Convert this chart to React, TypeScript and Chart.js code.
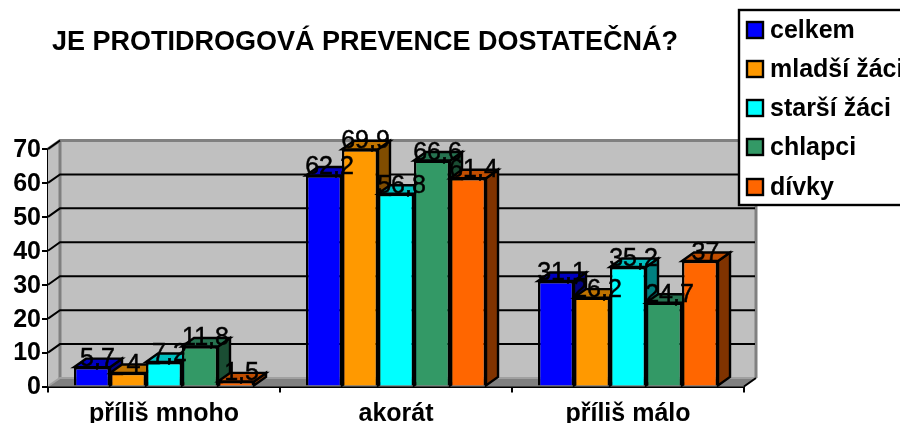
import React, { useEffect, useRef } from "react";
import { Chart, registerables } from "chart.js";

Chart.register(...registerables);

const categories = ["příliš mnoho", "akorát", "příliš málo"];
const celkem = [5.7, 62.2, 31.1];
const mladsiZaci = [4, 69.9, 26.2];
const starsiZaci = [7.2, 56.8, 35.2];
const chlapci = [11.8, 66.6, 24.7];
const divky = [1.5, 61.4, 37];
const seriesNames = ["celkem", "mladší žáci", "starší žáci", "chlapci", "dívky"];
const frontColors = ["#0000FF", "#FF9900", "#00FFFF", "#339966", "#FF6600"];
const topColors = ["#0000C0", "#C07400", "#00C0C0", "#267350", "#C04D00"];
const sideColors = ["#000080", "#804D00", "#008080", "#1A4D33", "#803300"];
const titleText = "JE PROTIDROGOVÁ PREVENCE DOSTATEČNÁ?";

const DX = 12;
const DY = -8.5;
const FONT = '"Liberation Sans", Arial, sans-serif';

const poly = (ctx: CanvasRenderingContext2D, pts: number[][], fill: string, stroke?: string, lw = 2) => {
  ctx.beginPath();
  pts.forEach(([x, y], i) => (i ? ctx.lineTo(x, y) : ctx.moveTo(x, y)));
  ctx.closePath();
  ctx.fillStyle = fill;
  ctx.fill();
  if (stroke) {
    ctx.strokeStyle = stroke;
    ctx.lineWidth = lw;
    ctx.lineJoin = "miter";
    ctx.stroke();
  }
};

const scene3d = {
  id: "scene3d",
  afterLayout(chart: any) {
    if (chart.titleBlock) chart.titleBlock.left = 52;
  },
  beforeDatasetsDraw(chart: any) {
    const { ctx, chartArea: a, scales } = chart;
    const { left: l, right: r, top: t, bottom: b } = a;
    ctx.save();
    // left side wall, back wall, floor
    poly(ctx, [[l, t], [l + DX, t + DY], [l + DX, b + DY], [l, b]], "#C0C0C0");
    poly(ctx, [[l + DX, t + DY], [r + DX, t + DY], [r + DX, b + DY], [l + DX, b + DY]], "#C0C0C0");
    ctx.strokeStyle = "#808080";
    ctx.lineWidth = 3;
    ctx.beginPath();
    ctx.moveTo(l, t);
    ctx.lineTo(l + DX, t + DY);
    ctx.lineTo(r + DX, t + DY);
    ctx.lineTo(r + DX, b + DY);
    ctx.moveTo(l + DX, t + DY);
    ctx.lineTo(l + DX, b + DY);
    ctx.stroke();
    // wall grid lines, one per y tick
    ctx.strokeStyle = "#000";
    ctx.lineWidth = 2;
    scales.y.ticks.forEach((tk: any) => {
      const y = scales.y.getPixelForValue(tk.value);
      if (tk.value === scales.y.min) return;
      ctx.beginPath();
      ctx.moveTo(l, y);
      ctx.lineTo(l + DX, y + DY);
      if (tk.value !== scales.y.max) ctx.lineTo(r + DX - 1, y + DY);
      ctx.stroke();
    });
    // floor
    poly(ctx, [[l, b], [l + DX, b + DY], [r + DX, b + DY], [r, b]], "#808080");
    ctx.strokeStyle = "#A0A0A0";
    ctx.lineWidth = 2;
    ctx.beginPath();
    ctx.moveTo(l + 1, b - 1);
    ctx.lineTo(l + DX, b + DY);
    ctx.lineTo(r + DX, b + DY);
    ctx.stroke();
    ctx.strokeStyle = "#000";
    ctx.lineWidth = 2;
    ctx.beginPath();
    ctx.moveTo(r, b);
    ctx.lineTo(r + DX, b + DY);
    ctx.stroke();
    // bars: first series painted first, later ones overlap its depth
    chart.data.datasets.forEach((_: any, i: number) => {
      const meta = chart.getDatasetMeta(i);
      meta.data.forEach((bar: any) => {
        const x0 = bar.x - bar.width / 2;
        const x1 = bar.x + bar.width / 2;
        const y0 = bar.y;
        const y1 = bar.base;
        poly(ctx, [[x1, y0], [x1 + DX, y0 + DY], [x1 + DX, y1 + DY], [x1, y1]], sideColors[i], "#000", 2.4);
        poly(ctx, [[x0, y0], [x0 + DX, y0 + DY], [x1 + DX, y0 + DY], [x1, y0]], topColors[i], "#000", 2.4);
        bar.draw(ctx);
      });
    });
    ctx.restore();
    return false;
  },
  afterDraw(chart: any) {
    const { ctx } = chart;
    ctx.save();
    // value labels
    ctx.font = `25px ${FONT}`;
    ctx.fillStyle = "#000";
    ctx.strokeStyle = "#000";
    ctx.lineWidth = 0.5;
    ctx.textAlign = "center";
    ctx.textBaseline = "alphabetic";
    chart.data.datasets.forEach((ds: any, i: number) => {
      chart.getDatasetMeta(i).data.forEach((bar: any, j: number) => {
        const text = String(ds.data[j]).replace(".", ",");
        ctx.fillText(text, bar.x + 5.5, bar.y - 1);
        ctx.strokeText(text, bar.x + 5.5, bar.y - 1);
      });
    });
    // legend box
    ctx.fillStyle = "#fff";
    ctx.fillRect(739, 10, 170, 195);
    ctx.strokeStyle = "#000";
    ctx.lineWidth = 2.4;
    ctx.strokeRect(739, 10, 170, 195);
    const rows = [30, 69, 108, 147, 187];
    ctx.textAlign = "left";
    ctx.textBaseline = "middle";
    ctx.font = `bold 25px ${FONT}`;
    chart.data.datasets.forEach((ds: any, i: number) => {
      ctx.fillStyle = frontColors[i];
      ctx.fillRect(747, rows[i] - 8, 16, 16);
      ctx.strokeStyle = "#000";
      ctx.lineWidth = 2.4;
      ctx.strokeRect(747, rows[i] - 8, 16, 16);
      ctx.fillStyle = "#000";
      ctx.fillText(ds.label, 770, rows[i] + 1);
    });
    ctx.restore();
  },
};

export default function App() {
  const ref = useRef<HTMLCanvasElement>(null);
  useEffect(() => {
    const values = [celkem, mladsiZaci, starsiZaci, chlapci, divky];
    const chart = new Chart(ref.current as HTMLCanvasElement, {
      type: "bar",
      data: {
        labels: categories,
        datasets: values.map((data, i) => ({
          label: seriesNames[i],
          data,
          backgroundColor: frontColors[i],
          borderColor: "#000",
          borderWidth: 2.4,
        })),
      },
      options: {
        responsive: false,
        animation: false,
        datasets: { bar: { barPercentage: 1, categoryPercentage: 0.776 } },
        layout: { padding: { right: 156 } },
        plugins: {
          legend: { display: false },
          tooltip: { enabled: false },
          title: {
            display: true,
            text: titleText,
            align: "start",
            fullSize: false,
            color: "#000",
            font: { family: FONT, size: 27, weight: "bold", lineHeight: 1.2 },
            padding: { top: 26, bottom: 90.6 },
          },
        },
        scales: {
          x: {
            grid: { drawOnChartArea: false, color: "#000", lineWidth: 2, tickLength: 6 },
            border: { color: "#000", width: 2 },
            ticks: {
              color: "#000",
              font: { family: FONT, size: 25, weight: "bold" },
              maxRotation: 0,
              autoSkip: false,
              padding: 7,
            },
            afterFit: (s: any) => {
              s.height = 36.5;
            },
          },
          y: {
            min: 0,
            max: 70,
            grid: { drawOnChartArea: false, color: "#000", lineWidth: 2, tickLength: 6 },
            border: { color: "#000", width: 2.4 },
            ticks: {
              stepSize: 10,
              color: "#000",
              font: { family: FONT, size: 25, weight: "bold" },
              padding: 1,
              labelOffset: 1,
            },
            afterFit: (s: any) => {
              s.width = 48;
            },
          },
        },
      },
      plugins: [scene3d],
    } as any);
    return () => chart.destroy();
  }, []);
  return (
    <canvas
      ref={ref}
      width={900}
      height={423}
      style={{ position: "fixed", left: 0, top: 0, width: 900, height: 423 }}
    />
  );
}
